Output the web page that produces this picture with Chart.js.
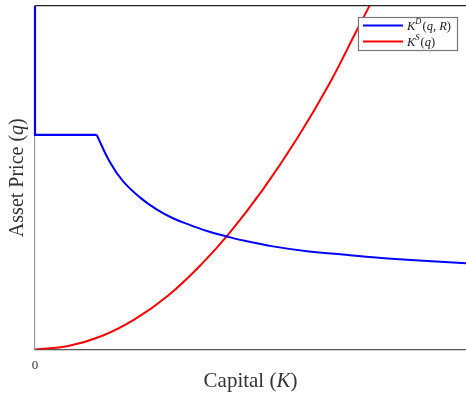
<!DOCTYPE html>
<html lang="en">
<head>
  <meta charset="UTF-8">
  <title>Capital demand and supply</title>
  <script src="https://cdn.jsdelivr.net/npm/chart.js"></script>
  <style>
    body { margin: 0; background: #fff; }
    .wrap { width: 466px; height: 393px; position: relative; }
  </style>
</head>
<body>
  <div class="wrap"><canvas id="chart"></canvas></div>

  <script>
    // demand: vertical at K=0, flat segment, then the falling branch
    const demandFlatK = [0, 0, 1.43];
    const demandFlatQ = [10, 6.25, 6.25];
    const demandK = [1.43, 1.74, 2.04, 2.44, 2.83, 3.20, 3.60, 3.99, 4.45, 4.76, 5.52, 6.31, 7.08, 7.84, 8.63, 9.40, 10];
    const demandQ = [6.25, 5.45, 4.90, 4.42, 4.07, 3.82, 3.62, 3.45, 3.29, 3.19, 3.00, 2.86, 2.77, 2.68, 2.61, 2.55, 2.51];
    // supply curve
    const supplyK = [0, 0.77, 1.55, 2.32, 3.09, 3.87, 4.52, 5.29, 6.08, 6.84, 7.47, 7.78];
    const supplyQ = [0, 0.10, 0.39, 0.88, 1.57, 2.49, 3.40, 4.66, 6.14, 7.76, 9.30, 10.05];
    const xTicks = [0];

    const pts = (xs, ys) => xs.map((x, i) => ({ x: x, y: ys[i] }));
    const SERIF = '"Liberation Serif", "DejaVu Serif", serif';

    // draw a run of text pieces centred on x, some italic
    function drawParts(ctx, parts, x, y, size) {
      let w = 0;
      parts.forEach(p => {
        ctx.font = (p.it ? 'italic ' : '') + size + 'px ' + SERIF;
        p.w = ctx.measureText(p.t).width;
        w += p.w;
      });
      let cx = x - w / 2;
      parts.forEach(p => {
        ctx.font = (p.it ? 'italic ' : '') + size + 'px ' + SERIF;
        ctx.fillText(p.t, cx, y);
        cx += p.w;
      });
    }

    const decorations = {
      id: 'decorations',
      afterDraw(chart) {
        const ctx = chart.ctx;
        const a = chart.chartArea;
        ctx.save();
        ctx.fillStyle = '#333';
        ctx.textBaseline = 'middle';
        ctx.textAlign = 'left';

        // axis titles
        drawParts(ctx, [{ t: 'Capital (' }, { t: 'K', it: true }, { t: ')' }], (a.left + a.right) / 2, 381, 21);
        ctx.save();
        ctx.translate(18, (a.top + a.bottom) / 2);
        ctx.rotate(-Math.PI / 2);
        drawParts(ctx, [{ t: 'Asset Price (' }, { t: 'q', it: true }, { t: ')' }], 0, 0, 20);
        ctx.restore();

        // legend box
        const bx = 358.5, by = 17.5, bw = 99, bh = 33;
        ctx.fillStyle = '#fff';
        ctx.fillRect(bx, by, bw, bh);
        ctx.strokeStyle = '#777';
        ctx.lineWidth = 1.2;
        ctx.strokeRect(bx, by, bw, bh);

        const rows = [
          { c: '#0000ff', y: 25.5, parts: [{ t: 'K', it: true }, { t: 'D', it: true, sup: true }, { t: '(' }, { t: 'q', it: true }, { t: ', ' }, { t: 'R', it: true }, { t: ')' }] },
          { c: '#ff0000', y: 41.5, parts: [{ t: 'K', it: true }, { t: 'S', it: true, sup: true }, { t: '(' }, { t: 'q', it: true }, { t: ')' }] }
        ];
        rows.forEach(r => {
          ctx.strokeStyle = r.c;
          ctx.lineWidth = 2;
          ctx.beginPath();
          ctx.moveTo(363, r.y);
          ctx.lineTo(403, r.y);
          ctx.stroke();
          ctx.fillStyle = '#222';
          let cx = 407;
          r.parts.forEach(p => {
            const size = p.sup ? 8.5 : 12.5;
            ctx.font = (p.it ? 'italic ' : '') + size + 'px ' + SERIF;
            ctx.fillText(p.t, cx, p.sup ? r.y - 4 : r.y + 1);
            cx += ctx.measureText(p.t).width + (p.sup ? 1 : 0);
          });
        });
        ctx.restore();
      }
    };

    new Chart(document.getElementById('chart'), {
      type: 'scatter',
      data: {
        datasets: [
          {
            label: 'KD',
            data: pts(demandK, demandQ),
            showLine: true,
            borderColor: '#0000ff',
            borderWidth: 2,
            pointRadius: 0,
            tension: 0.4,
            clip: 4
          },
          {
            label: 'KD flat',
            data: pts(demandFlatK, demandFlatQ),
            showLine: true,
            borderColor: '#0000ff',
            borderWidth: 2.2,
            pointRadius: 0,
            tension: 0,
            clip: 4
          },
          {
            label: 'KS',
            data: pts(supplyK, supplyQ),
            showLine: true,
            borderColor: '#ff0000',
            borderWidth: 2,
            pointRadius: 0,
            tension: 0.4
          }
        ]
      },
      options: {
        responsive: true,
        maintainAspectRatio: false,
        animation: false,
        layout: { padding: { left: 35, top: 6, right: 0, bottom: 20 } },
        plugins: { legend: { display: false }, tooltip: { enabled: false } },
        scales: {
          x: {
            type: 'linear', min: 0, max: 10,
            afterBuildTicks: s => { s.ticks = xTicks.map(v => ({ value: v })); },
            ticks: { color: '#333', padding: 0, maxRotation: 0, font: { family: SERIF, size: 13 } },
            grid: { display: false },
            border: { color: '#555', width: 1.2 }
          },
          xTop: {
            type: 'linear', position: 'top', min: 0, max: 10,
            afterFit: s => { s.height = 0; },
            ticks: { display: false },
            grid: { display: false },
            border: { color: '#222', width: 1.2 }
          },
          y: {
            min: 0, max: 10,
            afterFit: s => { s.width = 0; },
            ticks: { display: false },
            grid: { display: false },
            border: { color: '#999', width: 1.2 }
          }
        }
      },
      plugins: [decorations]
    });
  </script>
</body>
</html>
